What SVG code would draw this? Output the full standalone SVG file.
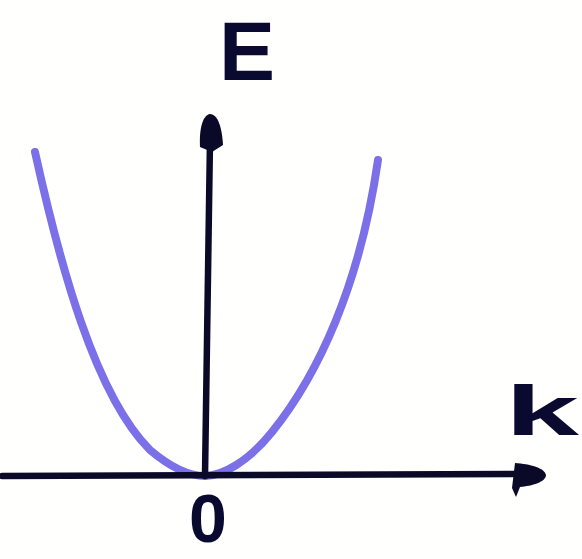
<svg xmlns="http://www.w3.org/2000/svg" width="582" height="559" viewBox="0 0 582 559">
<style>
.axis{stroke:#0a0a28;stroke-width:6.5;fill:none;stroke-linecap:round}
.curve{stroke:#7c70e8;stroke-width:8;fill:none;stroke-linecap:round}
.lbl{font-family:"Liberation Sans",Arial,sans-serif;font-weight:bold;fill:#0a0a30}
.head{fill:#0a0a28}
</style>
<rect width="582" height="559" fill="#fffffd"/>
<g id="curve">
<path class="curve" d="M35,152 C60,265 95,395 150,450 C176,472 194,476 205,476"/>
<path class="curve" d="M205,476 C222,476 248,462 272,432 C318,375 360,285 378,160"/>
</g>
<g id="connectors">
<path class="axis" d="M2,476 L525,474"/>
<path class="head" d="M515,463 C530,464 545,468 546,475 C546,482 532,486 520,487 L516,497 L512,488 Z"/>
<path class="axis" d="M205,476 L210,140"/>
<path class="head" d="M200,147 C199,128 203,115 210,114 C218,114 222,128 223,145 L212,152 Z"/>
</g>
<g id="label-E"><text class="lbl" x="247" y="80" font-size="84" text-anchor="middle">E</text></g>
<g id="label-k"><text class="lbl" x="505" y="435" font-size="70" textLength="74" lengthAdjust="spacingAndGlyphs">k</text></g>
<g id="label-0"><text class="lbl" x="208" y="542" font-size="68" text-anchor="middle">0</text></g>
</svg>
